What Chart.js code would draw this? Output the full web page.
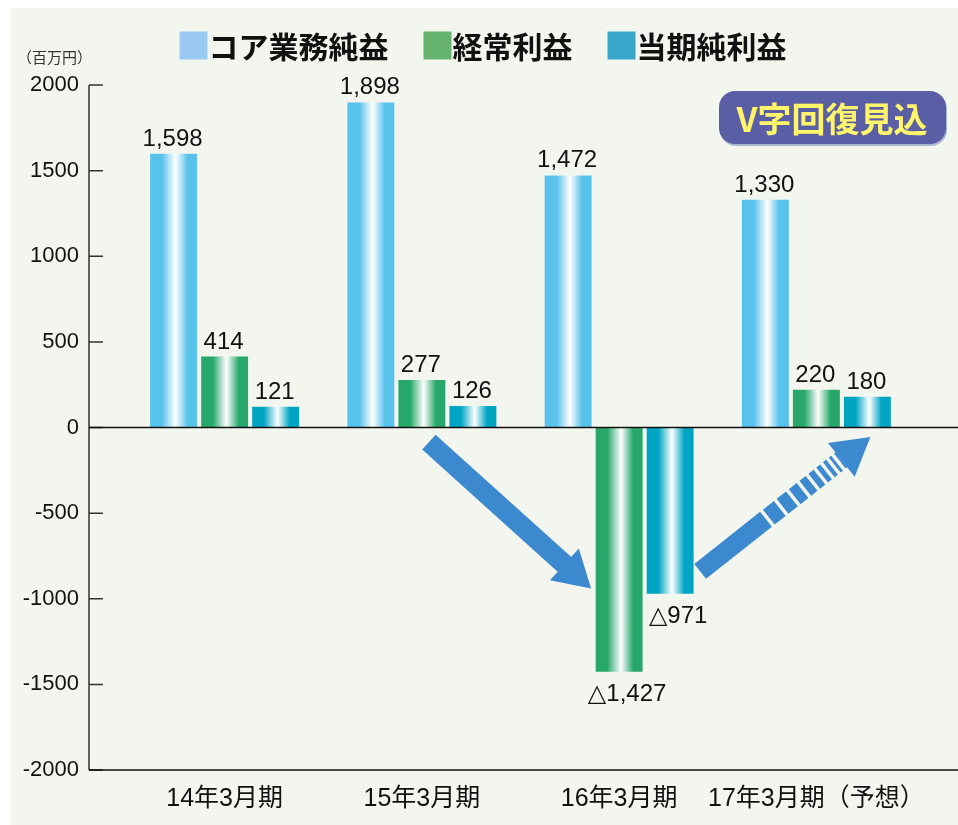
<!DOCTYPE html>
<html lang="ja">
<head>
<meta charset="utf-8">
<script src="https://cdn.jsdelivr.net/npm/chart.js@4.4.1/dist/chart.umd.min.js"></script>
<style>
  html, body { margin: 0; padding: 0; background: #fff; }
  #wrap { width: 958px; height: 825px; }
</style>
</head>
<body>
<div id="wrap"><canvas id="chart" width="958" height="825"></canvas></div>
<script>
const categories = ["14年3月期", "15年3月期", "16年3月期", "17年3月期（予想）"];
const seriesNames = ["コア業務純益", "経常利益", "当期純利益"];
const coreProfit = [1598, 1898, 1472, 1330];
const ordinaryProfit = [414, 277, -1427, 220];
const netProfit = [121, 126, -971, 180];
const yTickValues = [-2000, -1500, -1000, -500, 0, 500, 1000, 1500, 2000];

// bar edge colour + legend swatch colour per series
const palette = [
  { edge: "#57c2ec", key: "#99c9f1" },
  { edge: "#27a86a", key: "#66b26f" },
  { edge: "#00a5c4", key: "#38a6cb" },
];

const LATIN = "'Liberation Sans', 'Noto Sans CJK JP', sans-serif";
const CJK = "'Noto Sans CJK JP', sans-serif";

// glossy fill: solid edges, white streak a bit right of centre
function barFill(c) {
  const col = palette[c.datasetIndex].edge;
  const bar = c.element;
  if (!bar || !isFinite(bar.x) || !bar.width) return col;
  const g = c.chart.ctx.createLinearGradient(bar.x - bar.width / 2, 0, bar.x + bar.width / 2, 0);
  g.addColorStop(0, col);
  g.addColorStop(0.25, col);
  g.addColorStop(0.54, "#ffffff");
  g.addColorStop(0.8, col);
  g.addColorStop(1, col);
  return g;
}

function fmt(v) {
  return v.toLocaleString("en-US");
}

const backdrop = {
  id: "backdrop",
  beforeDraw(chart) {
    const ctx = chart.ctx;
    ctx.save();
    ctx.fillStyle = "#f3f6ee";
    ctx.fillRect(11, 8, chart.width - 11, chart.height - 8);
    ctx.restore();
  }
};

// axis line with inward ticks, zero line, bottom line
const frame = {
  id: "frame",
  afterDatasetsDraw(chart) {
    const { ctx, chartArea: a, scales: { y } } = chart;
    const axisX = a.left - 37;
    ctx.save();
    ctx.strokeStyle = "#333";
    ctx.lineWidth = 1.5;
    ctx.beginPath();
    ctx.moveTo(axisX, a.top);
    ctx.lineTo(axisX, a.bottom);
    y.ticks.forEach(t => {
      const py = y.getPixelForValue(t.value);
      ctx.moveTo(axisX, py);
      ctx.lineTo(axisX + 14, py);
    });
    ctx.stroke();
    ctx.strokeStyle = "#111";
    ctx.beginPath();
    const zero = y.getPixelForValue(0);
    ctx.moveTo(axisX, zero);
    ctx.lineTo(chart.width, zero);
    ctx.moveTo(axisX, a.bottom);
    ctx.lineTo(chart.width, a.bottom);
    ctx.stroke();
    ctx.restore();
  }
};

const valueLabels = {
  id: "valueLabels",
  afterDatasetsDraw(chart) {
    const ctx = chart.ctx;
    ctx.save();
    ctx.font = "24px 'Liberation Sans', 'DejaVu Sans', sans-serif";
    ctx.fillStyle = "#111";
    ctx.textAlign = "center";
    chart.data.datasets.forEach((ds, i) => {
      chart.getDatasetMeta(i).data.forEach((bar, j) => {
        const v = ds.data[j];
        if (v >= 0) {
          ctx.textBaseline = "alphabetic";
          ctx.fillText(fmt(v), bar.x - 1, bar.y - 8);
        } else {
          ctx.textBaseline = "middle";
          ctx.fillText("△" + fmt(-v), bar.x + 8, bar.y + 23);
        }
      });
    });
    ctx.restore();
  }
};

function arrow(ctx, x1, y1, x2, y2, shaft, headW, headL, stripes) {
  const len = Math.hypot(x2 - x1, y2 - y1);
  ctx.save();
  ctx.translate(x1, y1);
  ctx.rotate(Math.atan2(y2 - y1, x2 - x1));
  const body = len - headL;
  if (stripes) {
    ctx.fillRect(0, -shaft / 2, stripes.solid, shaft);
    let p = stripes.solid + stripes.gap;
    stripes.widths.forEach(w => {
      ctx.fillRect(p, -shaft / 2, w, shaft);
      p += w + stripes.gap;
    });
  } else {
    ctx.fillRect(0, -shaft / 2, body + 1, shaft);
  }
  ctx.beginPath();
  ctx.moveTo(len, 0);
  ctx.lineTo(body, -headW / 2);
  ctx.lineTo(body, headW / 2);
  ctx.closePath();
  ctx.fill();
  ctx.restore();
}

const trendArrows = {
  id: "trendArrows",
  afterDatasetsDraw(chart) {
    const { ctx, scales: { x, y } } = chart;
    ctx.save();
    ctx.fillStyle = "#3c89cf";
    arrow(ctx,
      x.getPixelForValue(1) + 7, y.getPixelForValue(-85),
      x.getPixelForValue(2) - 28, y.getPixelForValue(-940),
      20, 43, 36, null);
    arrow(ctx,
      x.getPixelForValue(2) + 81, y.getPixelForValue(-840),
      x.getPixelForValue(3) + 54, y.getPixelForValue(-55),
      19, 43, 37, { solid: 84, gap: 3.5, widths: [14, 12, 10, 8, 6.5, 5, 4, 3, 2] });
    ctx.restore();
  }
};

const decorations = {
  id: "decorations",
  afterDraw(chart) {
    const ctx = chart.ctx;
    ctx.save();
    // legend
    ctx.font = "bold 30px " + CJK;
    const box = 28, gapText = 1, gapItem = 35;
    const items = chart.data.datasets.map((ds, i) => ({
      text: ds.label, color: palette[i].key,
      w: box + gapText + ctx.measureText(ds.label).width
    }));
    const total = items.reduce((s, it) => s + it.w, 0) + gapItem * (items.length - 1);
    let lx = 483 - total / 2;
    const ly = 45.5;
    ctx.textBaseline = "middle";
    ctx.textAlign = "left";
    items.forEach(it => {
      ctx.fillStyle = it.color;
      ctx.fillRect(lx, ly - box / 2, box, box);
      ctx.fillStyle = "#111";
      ctx.fillText(it.text, lx + box + gapText, ly + 1);
      lx += it.w + gapItem;
    });

    // unit
    ctx.font = "15px " + CJK;
    ctx.fillStyle = "#333";
    ctx.fillText("（百万円）", 17, 57);

    // badge
    ctx.shadowColor = "rgba(120,140,190,0.6)";
    ctx.shadowOffsetX = 1;
    ctx.shadowOffsetY = 2;
    ctx.fillStyle = "#5a5ea5";
    ctx.beginPath();
    ctx.roundRect(719, 91, 227, 53, 16);
    ctx.fill();
    ctx.shadowColor = "transparent";
    ctx.fillStyle = "#fff46a";
    ctx.font = "bold 34px " + CJK;
    ctx.textAlign = "center";
    ctx.fillText("V字回復見込", 832, 119);
    ctx.restore();
  }
};

const datasets = [coreProfit, ordinaryProfit, netProfit].map((values, i) => ({
  label: seriesNames[i],
  data: values,
  backgroundColor: barFill,
  borderWidth: 0,
  categoryPercentage: 0.776,
  barPercentage: 0.92,
}));

const chart = new Chart(document.getElementById("chart"), {
  type: "bar",
  data: { labels: categories, datasets },
  options: {
    responsive: false,
    animation: false,
    layout: { padding: { left: 0, right: 43, top: 85, bottom: 15 } },
    plugins: {
      legend: { display: false },
      tooltip: { enabled: false },
    },
    scales: {
      x: {
        grid: { display: false },
        border: { display: false },
        ticks: { color: "#111", font: { family: LATIN, size: 25 }, padding: 6, maxRotation: 0, autoSkip: false },
        afterFit: s => { s.height = 40; },
      },
      y: {
        min: -2000,
        max: 2000,
        afterBuildTicks: s => { s.ticks = yTickValues.map(v => ({ value: v })); },
        // invisible tick marks push the labels out to the left of the drawn axis
        grid: { display: true, drawOnChartArea: false, drawTicks: true, tickLength: 44, tickColor: "transparent" },
        border: { display: false },
        ticks: {
          color: "#111", font: { family: LATIN, size: 22 }, padding: 3,
          callback: v => String(v),
        },
        afterFit: s => { s.width = 126; },
      },
    },
  },
  plugins: [backdrop, frame, valueLabels, trendArrows, decorations],
});
// second pass so the gradient can read each bar's final position
chart.update();
</script>
</body>
</html>
